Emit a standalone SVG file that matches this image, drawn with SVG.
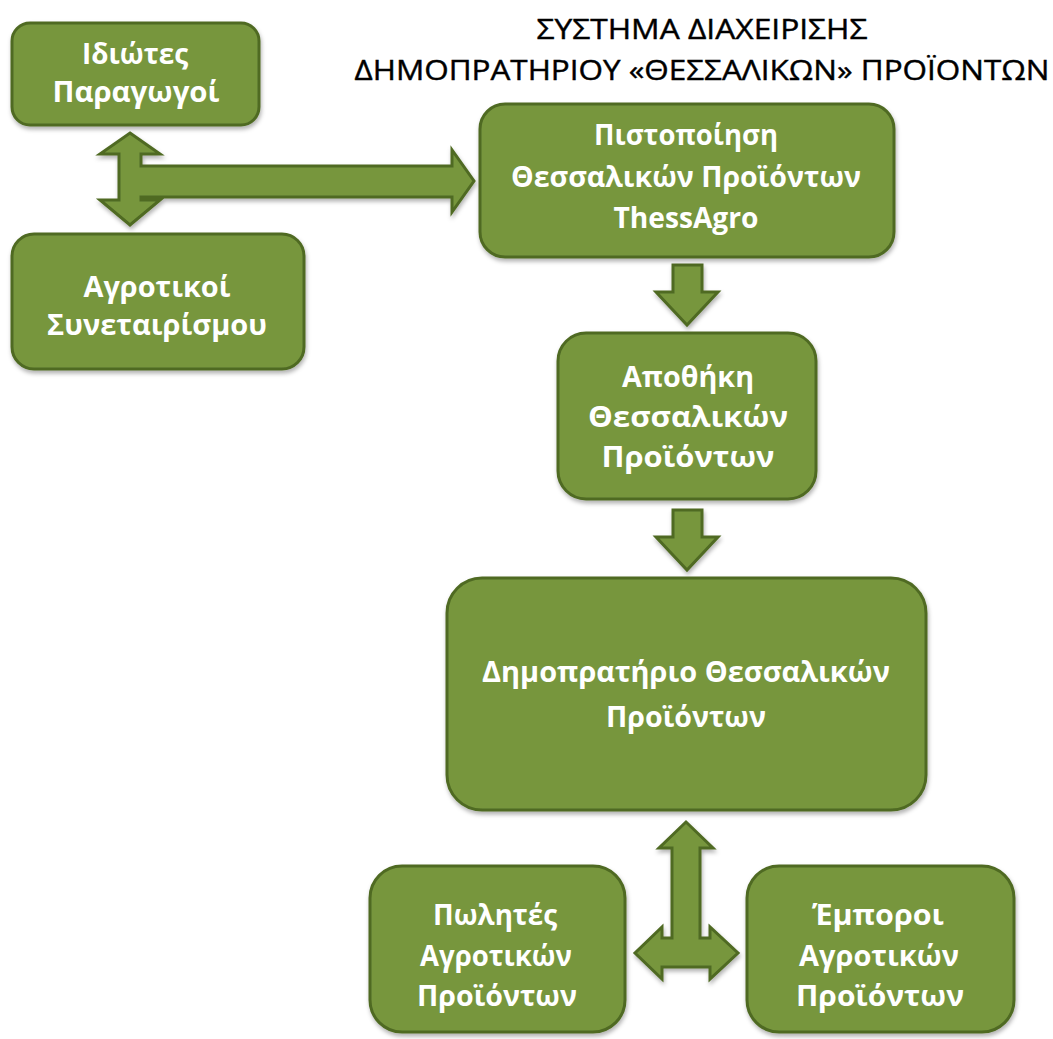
<svg xmlns="http://www.w3.org/2000/svg" width="1053" height="1039" viewBox="0 0 1053 1039">
<defs>
<filter id="sh" x="-10%" y="-10%" width="120%" height="130%">
<feDropShadow dx="1" dy="3" stdDeviation="2" flood-color="#000" flood-opacity="0.3"/>
</filter>
</defs>
<style>
.box{fill:#77963D;stroke:#4F6A24;stroke-width:3;filter:url(#sh)}
.arr{fill:#77963D;stroke:#4F6A24;stroke-width:3;stroke-linejoin:miter;filter:url(#sh)}
.t{fill:#ffffff;font-family:"Open Sans","Noto Sans",sans-serif;font-weight:bold;font-size:28px;text-anchor:middle}
.title{fill:#000;stroke:#000;stroke-width:0.4;font-family:"Open Sans","Noto Sans",sans-serif;font-size:27px;text-anchor:middle}
</style>
<rect width="1053" height="1039" fill="#ffffff"/>
<g id="title">
<text class="title" x="702" y="39" textLength="331" lengthAdjust="spacingAndGlyphs">ΣΥΣΤΗΜΑ ΔΙΑΧΕΙΡΙΣΗΣ</text>
<text class="title" x="702" y="80" textLength="695" lengthAdjust="spacingAndGlyphs">ΔΗΜΟΠΡΑΤΗΡΙΟΥ «ΘΕΣΣΑΛΙΚΩΝ» ΠΡΟΪΟΝΤΩΝ</text>
</g>
<g id="connectors">
<path class="arr" d="M130,133 L160,154 L141,154 L141,166 L452,166 L452,150 L474,181 L452,212 L452,197 L141,197 L141,200 L160,200 L130,225 L100,200 L119,200 L119,154 L100,154 Z"/>
<path class="arr" d="M673,265 L702,265 L702,292 L718,292 L687,325 L656,292 L673,292 Z"/>
<path class="arr" d="M673,510 L702,510 L702,537 L718,537 L687,570 L656,537 L673,537 Z"/>
<path class="arr" d="M686,822 L713,848 L700,848 L700,938 L710,938 L710,927 L738,953 L710,979 L710,967 L662,967 L662,979 L635,953 L662,927 L662,938 L672,938 L672,848 L659,848 Z"/>
</g>
<g id="n_idiotes">
<rect class="box" x="12" y="23" width="247" height="102" rx="18"/>
<text class="t" x="135" y="64" textLength="106" lengthAdjust="spacingAndGlyphs">Ιδιώτες</text>
<text class="t" x="136" y="102" textLength="167" lengthAdjust="spacingAndGlyphs">Παραγωγοί</text>
</g>
<g id="n_agrotikoi">
<rect class="box" x="12" y="234" width="292" height="135" rx="22"/>
<text class="t" x="157" y="297" textLength="147" lengthAdjust="spacingAndGlyphs">Αγροτικοί</text>
<text class="t" x="157" y="335" textLength="220" lengthAdjust="spacingAndGlyphs">Συνεταιρίσμου</text>
</g>
<g id="n_pistopoiisi">
<rect class="box" x="480" y="104" width="414" height="153" rx="25"/>
<text class="t" x="686" y="145" textLength="184" lengthAdjust="spacingAndGlyphs">Πιστοποίηση</text>
<text class="t" x="686" y="187" textLength="350" lengthAdjust="spacingAndGlyphs">Θεσσαλικών Προϊόντων</text>
<text class="t" x="686" y="228" textLength="145" lengthAdjust="spacingAndGlyphs">ThessAgro</text>
</g>
<g id="n_apothiki">
<rect class="box" x="558" y="333" width="258" height="166" rx="28"/>
<text class="t" x="688" y="387" textLength="132" lengthAdjust="spacingAndGlyphs">Αποθήκη</text>
<text class="t" x="688" y="427" textLength="200" lengthAdjust="spacingAndGlyphs">Θεσσαλικών</text>
<text class="t" x="688" y="467" textLength="173" lengthAdjust="spacingAndGlyphs">Προϊόντων</text>
</g>
<g id="n_dimopratirio">
<rect class="box" x="447" y="578" width="479" height="232" rx="35"/>
<text class="t" x="686" y="682" textLength="408" lengthAdjust="spacingAndGlyphs">Δημοπρατήριο Θεσσαλικών</text>
<text class="t" x="686" y="727" textLength="160" lengthAdjust="spacingAndGlyphs">Προϊόντων</text>
</g>
<g id="n_polites">
<rect class="box" x="370" y="866" width="255" height="166" rx="32"/>
<text class="t" x="495" y="925" textLength="124" lengthAdjust="spacingAndGlyphs">Πωλητές</text>
<text class="t" x="496" y="966" textLength="152" lengthAdjust="spacingAndGlyphs">Αγροτικών</text>
<text class="t" x="497" y="1006" textLength="160" lengthAdjust="spacingAndGlyphs">Προϊόντων</text>
</g>
<g id="n_emporoi">
<rect class="box" x="747" y="866" width="267" height="166" rx="32"/>
<text class="t" x="878" y="925" textLength="132" lengthAdjust="spacingAndGlyphs">Έμποροι</text>
<text class="t" x="879" y="966" textLength="160" lengthAdjust="spacingAndGlyphs">Αγροτικών</text>
<text class="t" x="880" y="1006" textLength="168" lengthAdjust="spacingAndGlyphs">Προϊόντων</text>
</g>
</svg>
